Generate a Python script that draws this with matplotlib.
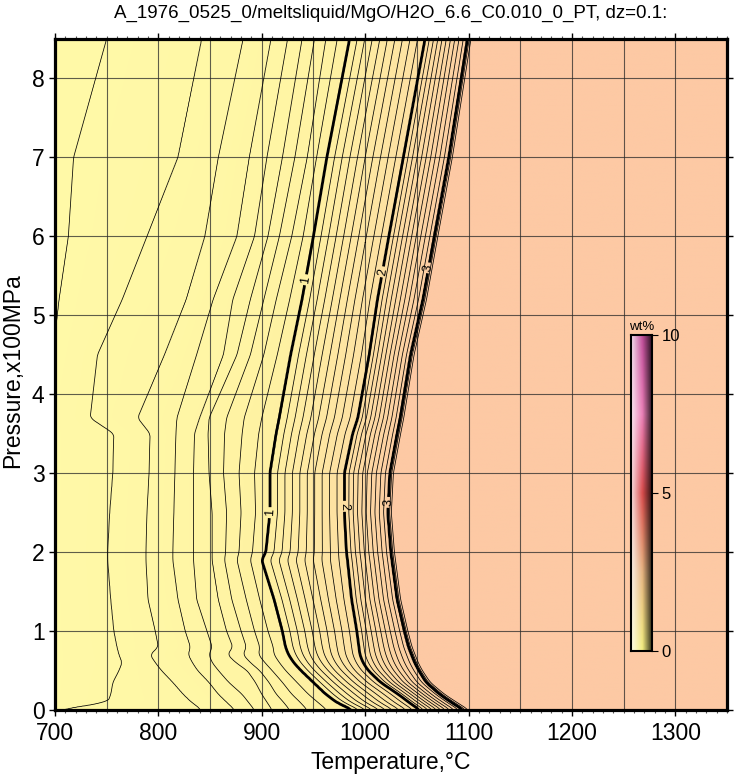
import numpy as np
import matplotlib
matplotlib.use('Agg')
import matplotlib.pyplot as plt
from matplotlib.colors import LinearSegmentedColormap

plt.rcParams['font.family'] = ['Liberation Sans', 'DejaVu Sans']

####################################
# Data
####################################

TITLE = 'A_1976_0525_0/meltsliquid/MgO/H2O_6.6_C0.010_0_PT, dz=0.1:'

# pressure rows (x100 MPa) where the isopleths were read
pressure = [0.0, 0.1, 0.2, 0.35, 0.5, 0.6, 0.7, 0.8, 1.0, 1.4, 1.9,
            2.0, 2.5, 3.0, 3.5, 3.7, 4.5, 5.2, 6.0, 7.0, 8.5]

# wt% H2O of each isopleth and its temperature (degC) on every pressure row
iso_levels = [0.1, 0.2, 0.3, 0.4, 0.5, 0.6, 0.7, 0.8, 0.9, 1.0, 2.0, 3.0, 3.3]
t_01 = [680, 685, 685, 685, 685, 685, 685, 685, 685, 685, 685, 685, 685, 685, 685, 685, 698, 704, 713, 718, 750]
t_02 = [702, 751, 754, 756, 762, 765, 762, 760, 757, 754, 751, 751, 753, 756, 757, 734, 741, 765, 789, 819, 842]
t_03 = [842, 832, 824, 814, 803, 797, 792, 800, 797, 790, 788, 788, 789, 791, 792, 780, 806, 827, 845, 858, 882]
t_04 = [874, 866, 858, 849, 838, 833, 829, 831, 826, 819, 814, 814, 815, 816, 817, 818, 837, 853, 876, 888, 909]
t_05 = [893, 887, 881, 868, 858, 852, 849, 852, 847, 837, 834, 834, 834, 834, 835, 840, 863, 872, 893, 905, 925]
t_06 = [910, 905, 900, 894, 886, 875, 867, 872, 866, 858, 852, 852, 852, 849, 848, 849, 876, 889, 906, 920, 939]
t_07 = [927, 921, 914, 907, 898, 889, 882, 885, 880, 871, 864, 865, 866, 863, 864, 866, 889, 902, 917, 932, 951]
t_08 = [944, 937, 929, 920, 910, 903, 897, 898, 893, 885, 876, 878, 880, 878, 881, 883, 902, 914, 929, 944, 962]
t_09 = [963, 954, 945, 934, 923, 917, 912, 911, 906, 898, 889, 891, 894, 893, 897, 900, 915, 927, 940, 953, 973]
t_10 = [988, 972, 962, 950, 938, 931, 926, 923, 920, 912, 900, 904, 908, 908, 914, 917, 928, 939, 950, 963, 985]
t_20 = [1053, 1042, 1032, 1015, 1003, 998, 995, 994, 992, 987, 983, 982, 980, 980, 988, 993, 1004, 1012, 1023, 1037, 1058]
t_30 = [1095, 1083, 1072, 1059, 1052, 1048, 1045, 1042, 1038, 1031, 1026, 1025, 1022, 1024, 1031, 1034, 1044, 1056, 1067, 1081, 1099]
t_33 = [1103, 1091, 1079, 1065, 1057, 1053, 1050, 1047, 1043, 1036, 1031, 1030, 1027, 1029, 1036, 1039, 1049, 1061, 1072, 1086, 1104]

# colour scale (wt%)
field_colors = ['#fffaa8', '#fff3a3', '#fee6a2', '#fdd8a2', '#fdc9a4']
cbar_values = [0, 2.5, 5, 7.5, 10]
cbar_colors = [(0.95, 0.93, 0.50), (0.90, 0.70, 0.50), (0.85, 0.30, 0.30),
               (0.92, 0.50, 0.72), (0.75, 0.30, 0.60)]

####################################
# Build the field
####################################

iso_temps = np.array([t_01, t_02, t_03, t_04, t_05, t_06, t_07, t_08,
                      t_09, t_10, t_20, t_30, t_33], dtype=float)
T = np.arange(600, 1361, 1.0)
P = np.linspace(0, 8.5, 851)

# isopleth positions on every fine pressure row (lightly smoothed so the
# corners at the read rows round off), then the field along T
iso_fine = np.array([np.interp(P, pressure, row) for row in iso_temps])
win = 9
kern = np.ones(win) / win
for k in range(len(iso_fine)) :
    padded = np.pad(iso_fine[k], win // 2, mode='edge')
    iso_fine[k] = np.convolve(padded, kern, mode='valid')

fp = np.concatenate([[0.0], iso_levels])
Z = np.empty((len(P), len(T)))
for i in range(len(P)) :
    xp = np.concatenate([[600.0], iso_fine[:, i]])
    Z[i] = np.interp(T, xp, fp)

####################################
# Plot
####################################

fig = plt.figure(figsize=(7.34, 7.76), dpi=100)
ax = fig.add_axes([55/734, 66/776, 672/734, 671/776])

field_cmap = LinearSegmentedColormap.from_list('h2o', field_colors)
ax.imshow(Z, extent=[T[0], T[-1], 0, 8.5], origin='lower', aspect='auto',
          cmap=field_cmap, vmin=0, vmax=3.3, interpolation='bilinear')

# grid
for x in np.arange(750, 1350, 50) :
    ax.axvline(x, color='#2a2a2a', lw=0.8, alpha=0.75, zorder=2)
for y in np.arange(1, 9) :
    ax.axhline(y, color='#2a2a2a', lw=0.8, alpha=0.75, zorder=2)

thin_levels = [round(v, 1) for v in np.arange(0.1, 3.25, 0.1) if abs(v - round(v)) > 0.01]
ax.contour(T, P, Z, levels=thin_levels, colors='k', linewidths=0.55, zorder=3)
cs = ax.contour(T, P, Z, levels=[1, 2, 3], colors='k', linewidths=2.0, zorder=4)

# label positions on the bold isopleths
spots = []
for lev, plo, phi in [(1, 2.5, 5.45), (2, 2.58, 5.55), (3, 2.63, 5.6)] :
    for p in (plo, phi) :
        i = int(np.argmin(abs(P - p)))
        spots.append((np.interp(lev, Z[i], T), P[i]))
ax.clabel(cs, fmt='%d', fontsize=9, inline=True, inline_spacing=2, manual=spots)

ax.set_xlim(700, 1350)
ax.set_ylim(0, 8.5)
ax.set_xticks(np.arange(700, 1301, 100))
ax.set_xticks(np.arange(700, 1351, 10), minor=True)
ax.set_yticks(np.arange(0, 9, 1))
ax.tick_params(axis='x', which='major', direction='out', length=4.5, width=1,
               labelsize=16.5, pad=4, top=True)
ax.tick_params(axis='x', which='minor', direction='out', length=2.5, width=0.8,
               top=True, color='#555555')
ax.tick_params(axis='y', which='major', direction='out', length=4.5, width=1,
               labelsize=16.5, pad=3, right=True)
for s in ax.spines.values() :
    s.set_linewidth(2.3)
    s.set_zorder(10)

fig.text(391/734, 1 - 13/776, TITLE, ha='center', va='center', fontsize=13.5)
fig.text(391/734, 1 - 762/776, 'Temperature,°C', ha='center', va='center', fontsize=16.5)
fig.text(13/734, 1 - 371/776, 'Pressure,x100MPa', ha='center', va='center',
         rotation=90, fontsize=16.5)

# colour bar with GMT-like shading across its width
cax = fig.add_axes([631/734, (776 - 651)/776, 21/734, 316/776])
cb_cmap = LinearSegmentedColormap.from_list(
    'cb', list(zip(np.array(cbar_values) / 10.0, cbar_colors)))
base = cb_cmap(np.linspace(0, 1, 256))[:, :3]
u = np.linspace(0, 1, 24)
img = np.empty((256, len(u), 3))
for c, uu in enumerate(u) :
    if uu < 0.55 :
        a = 0.8 * (1 - uu / 0.55)
        img[:, c] = base + (1 - base) * a
    else :
        d = 0.75 * (uu - 0.55) / 0.45
        img[:, c] = base * (1 - d)
cax.imshow(img, extent=[0, 1, 0, 10], origin='lower', aspect='auto')
cax.set_xlim(0, 1)
cax.set_ylim(0, 10)
cax.set_xticks([])
cax.yaxis.tick_right()
cax.set_yticks([0, 5, 10])
cax.tick_params(axis='y', direction='out', length=4, width=0.8, labelsize=12, pad=3)
for s in cax.spines.values() :
    s.set_linewidth(1.5)
cax.text(0.5, 1.005, 'wt%', transform=cax.transAxes, ha='center', va='bottom', fontsize=9.5)

fig.savefig('out.png', dpi=100)
